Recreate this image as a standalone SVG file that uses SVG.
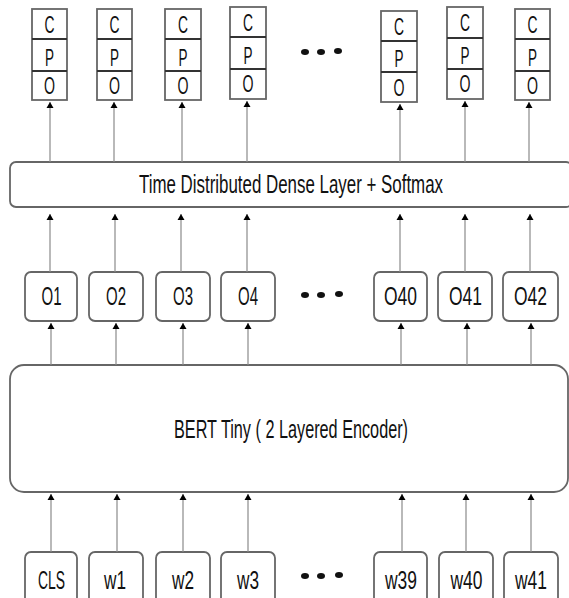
<svg xmlns="http://www.w3.org/2000/svg" width="569" height="598" viewBox="0 0 569 598">
<defs>
<marker id="ah" viewBox="0 0 6 10" refX="6" refY="5" markerWidth="6" markerHeight="10" markerUnits="userSpaceOnUse" orient="auto">
<path d="M0,1.5 L6,5 L0,8.5 z" fill="#000"/>
</marker>
<style>
.box{fill:#fff;stroke:#666;stroke-width:1.8}
.div{stroke:#333;stroke-width:2}
.ln{stroke:#8a8a8a;stroke-width:1.2;fill:none;marker-end:url(#ah)}
.t{font-family:"Liberation Sans",Arial,sans-serif;fill:#111;text-anchor:middle;font-size:25px}
.s{font-size:23px}
.dot{fill:#111}
</style>
</defs>
<rect width="569" height="598" fill="#fff"/>

<g id="cpo1"><rect class="box" x="32" y="9" width="35" height="91"/><line class="div" x1="32" y1="39" x2="67" y2="39"/><line class="div" x1="32" y1="71" x2="67" y2="71"/><text class="t s" x="49.5" y="33" textLength="10" lengthAdjust="spacingAndGlyphs">C</text><text class="t s" x="49.5" y="66" textLength="9" lengthAdjust="spacingAndGlyphs">P</text><text class="t s" x="49.5" y="94" textLength="11" lengthAdjust="spacingAndGlyphs">O</text></g>
<g id="cpo2"><rect class="box" x="97" y="9" width="35" height="91"/><line class="div" x1="97" y1="39" x2="132" y2="39"/><line class="div" x1="97" y1="71" x2="132" y2="71"/><text class="t s" x="114.5" y="33" textLength="10" lengthAdjust="spacingAndGlyphs">C</text><text class="t s" x="114.5" y="66" textLength="9" lengthAdjust="spacingAndGlyphs">P</text><text class="t s" x="114.5" y="94" textLength="11" lengthAdjust="spacingAndGlyphs">O</text></g>
<g id="cpo3"><rect class="box" x="165" y="9" width="36" height="91"/><line class="div" x1="165" y1="39" x2="201" y2="39"/><line class="div" x1="165" y1="71" x2="201" y2="71"/><text class="t s" x="183" y="33" textLength="10" lengthAdjust="spacingAndGlyphs">C</text><text class="t s" x="183" y="66" textLength="9" lengthAdjust="spacingAndGlyphs">P</text><text class="t s" x="183" y="94" textLength="11" lengthAdjust="spacingAndGlyphs">O</text></g>
<g id="cpo4"><rect class="box" x="230" y="7" width="36" height="92"/><line class="div" x1="230" y1="37" x2="266" y2="37"/><line class="div" x1="230" y1="69" x2="266" y2="69"/><text class="t s" x="248" y="31" textLength="10" lengthAdjust="spacingAndGlyphs">C</text><text class="t s" x="248" y="64" textLength="9" lengthAdjust="spacingAndGlyphs">P</text><text class="t s" x="248" y="92" textLength="11" lengthAdjust="spacingAndGlyphs">O</text></g>
<g id="cpo5"><rect class="box" x="381" y="11" width="36" height="91"/><line class="div" x1="381" y1="41" x2="417" y2="41"/><line class="div" x1="381" y1="72" x2="417" y2="72"/><text class="t s" x="399" y="35" textLength="10" lengthAdjust="spacingAndGlyphs">C</text><text class="t s" x="399" y="67" textLength="9" lengthAdjust="spacingAndGlyphs">P</text><text class="t s" x="399" y="96" textLength="11" lengthAdjust="spacingAndGlyphs">O</text></g>
<g id="cpo6"><rect class="box" x="447" y="7" width="36" height="92"/><line class="div" x1="447" y1="38" x2="483" y2="38"/><line class="div" x1="447" y1="69" x2="483" y2="69"/><text class="t s" x="465" y="31" textLength="10" lengthAdjust="spacingAndGlyphs">C</text><text class="t s" x="465" y="64" textLength="9" lengthAdjust="spacingAndGlyphs">P</text><text class="t s" x="465" y="92" textLength="11" lengthAdjust="spacingAndGlyphs">O</text></g>
<g id="cpo7"><rect class="box" x="515" y="9" width="35" height="91"/><line class="div" x1="515" y1="39" x2="550" y2="39"/><line class="div" x1="515" y1="71" x2="550" y2="71"/><text class="t s" x="532.5" y="33" textLength="10" lengthAdjust="spacingAndGlyphs">C</text><text class="t s" x="532.5" y="66" textLength="9" lengthAdjust="spacingAndGlyphs">P</text><text class="t s" x="532.5" y="94" textLength="11" lengthAdjust="spacingAndGlyphs">O</text></g>
<g id="dots-top"><ellipse class="dot" cx="305" cy="52" rx="4" ry="3"/><ellipse class="dot" cx="321" cy="52" rx="4" ry="3"/><ellipse class="dot" cx="338" cy="51" rx="4" ry="3"/></g>

<g id="dense"><rect class="box" x="10" y="162" width="562" height="45" rx="6"/><text class="t" transform="translate(291,193) scale(1,1.4)" x="0" y="0" style="font-size:18px" textLength="304" lengthAdjust="spacingAndGlyphs">Time Distributed Dense Layer + Softmax</text></g>

<g id="o1"><rect class="box" x="25" y="272" width="52" height="49" rx="6"/><text class="t" x="51.5" y="305" textLength="20" lengthAdjust="spacingAndGlyphs">O1</text></g>
<g id="o2"><rect class="box" x="89" y="272" width="54" height="49" rx="6"/><text class="t" x="116" y="305" textLength="20" lengthAdjust="spacingAndGlyphs">O2</text></g>
<g id="o3"><rect class="box" x="156" y="272" width="54" height="49" rx="6"/><text class="t" x="183" y="305" textLength="20" lengthAdjust="spacingAndGlyphs">O3</text></g>
<g id="o4"><rect class="box" x="221" y="272" width="54" height="49" rx="6"/><text class="t" x="248" y="305" textLength="20" lengthAdjust="spacingAndGlyphs">O4</text></g>
<g id="dots-mid"><ellipse class="dot" cx="305" cy="295" rx="4" ry="3"/><ellipse class="dot" cx="321" cy="295" rx="4" ry="3"/><ellipse class="dot" cx="339" cy="294" rx="4" ry="3"/></g>
<g id="o40"><rect class="box" x="374" y="272" width="53" height="49" rx="6"/><text class="t" x="400.5" y="305" textLength="33" lengthAdjust="spacingAndGlyphs">O40</text></g>
<g id="o41"><rect class="box" x="438" y="272" width="54" height="49" rx="6"/><text class="t" x="465.5" y="305" textLength="33" lengthAdjust="spacingAndGlyphs">O41</text></g>
<g id="o42"><rect class="box" x="503" y="272" width="55" height="49" rx="6"/><text class="t" x="530.5" y="305" textLength="33" lengthAdjust="spacingAndGlyphs">O42</text></g>

<g id="bert"><rect class="box" x="10" y="365" width="558" height="127" rx="14"/><text class="t" x="291" y="438" textLength="234" lengthAdjust="spacingAndGlyphs">BERT Tiny ( 2 Layered Encoder)</text></g>

<g id="cls"><rect class="box" x="25" y="552" width="52" height="60" rx="6"/><text class="t" x="51.5" y="589" textLength="27" lengthAdjust="spacingAndGlyphs">CLS</text></g>
<g id="w1"><rect class="box" x="89" y="552" width="54" height="60" rx="6"/><text class="t" x="115" y="589" textLength="22" lengthAdjust="spacingAndGlyphs">w1</text></g>
<g id="w2"><rect class="box" x="156" y="552" width="54" height="60" rx="6"/><text class="t" x="183" y="589" textLength="22" lengthAdjust="spacingAndGlyphs">w2</text></g>
<g id="w3"><rect class="box" x="221" y="552" width="54" height="60" rx="6"/><text class="t" x="248" y="589" textLength="22" lengthAdjust="spacingAndGlyphs">w3</text></g>
<g id="dots-bot"><ellipse class="dot" cx="305" cy="576" rx="4" ry="3"/><ellipse class="dot" cx="321" cy="576" rx="4" ry="3"/><ellipse class="dot" cx="339" cy="575" rx="4" ry="3"/></g>
<g id="w39"><rect class="box" x="374" y="552" width="53" height="60" rx="6"/><text class="t" x="401" y="589" textLength="32" lengthAdjust="spacingAndGlyphs">w39</text></g>
<g id="w40"><rect class="box" x="439" y="552" width="54" height="60" rx="6"/><text class="t" x="466.5" y="589" textLength="32" lengthAdjust="spacingAndGlyphs">w40</text></g>
<g id="w41"><rect class="box" x="504" y="552" width="54" height="60" rx="6"/><text class="t" x="531" y="589" textLength="32" lengthAdjust="spacingAndGlyphs">w41</text></g>

<g id="connectors">
<line class="ln" x1="50" y1="162" x2="50" y2="102"/>
<line class="ln" x1="114" y1="162" x2="114" y2="102"/>
<line class="ln" x1="182" y1="162" x2="182" y2="102"/>
<line class="ln" x1="247" y1="162" x2="247" y2="101"/>
<line class="ln" x1="400" y1="162" x2="400" y2="104"/>
<line class="ln" x1="465" y1="162" x2="465" y2="101"/>
<line class="ln" x1="529" y1="162" x2="529" y2="102"/>

<line class="ln" x1="50" y1="272" x2="50" y2="214"/>
<line class="ln" x1="115" y1="272" x2="115" y2="214"/>
<line class="ln" x1="181" y1="272" x2="181" y2="214"/>
<line class="ln" x1="247" y1="272" x2="247" y2="214"/>
<line class="ln" x1="400" y1="272" x2="400" y2="214"/>
<line class="ln" x1="465" y1="272" x2="465" y2="214"/>
<line class="ln" x1="530" y1="272" x2="530" y2="214"/>

<line class="ln" x1="51" y1="365" x2="51" y2="323"/>
<line class="ln" x1="116" y1="365" x2="116" y2="323"/>
<line class="ln" x1="183" y1="365" x2="183" y2="323"/>
<line class="ln" x1="248" y1="365" x2="248" y2="323"/>
<line class="ln" x1="401" y1="365" x2="401" y2="323"/>
<line class="ln" x1="467" y1="365" x2="467" y2="323"/>
<line class="ln" x1="531" y1="365" x2="531" y2="323"/>

<line class="ln" x1="51" y1="552" x2="51" y2="494"/>
<line class="ln" x1="117" y1="552" x2="117" y2="494"/>
<line class="ln" x1="183" y1="552" x2="183" y2="494"/>
<line class="ln" x1="248" y1="552" x2="248" y2="494"/>
<line class="ln" x1="402" y1="552" x2="402" y2="494"/>
<line class="ln" x1="466" y1="552" x2="466" y2="494"/>
<line class="ln" x1="531" y1="552" x2="531" y2="494"/>
</g>
</svg>
